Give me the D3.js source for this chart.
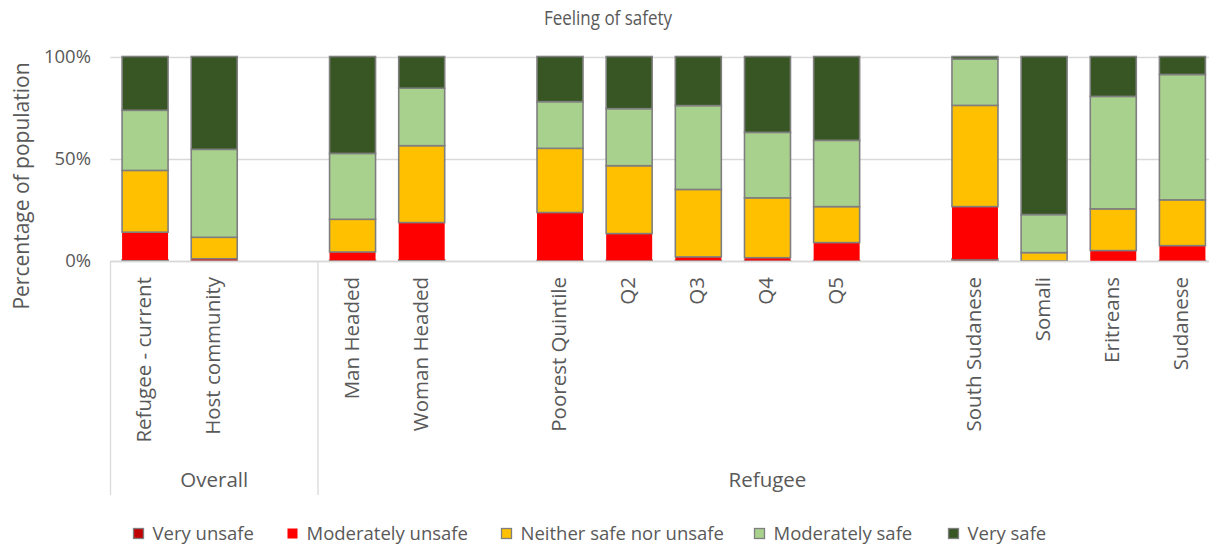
<!DOCTYPE html>
<html>
<head>
<meta charset="utf-8">
<script src="https://cdn.jsdelivr.net/npm/d3@7"></script>
<style>
  html, body { margin: 0; padding: 0; background: #fff; }
  svg { display: block; font-family: "Open Sans", sans-serif; }
</style>
</head>
<body>
<svg id="chart" width="1209" height="548"></svg>
<script>
// Category slots along the x axis ("" = empty spacer slot)
const categories = ["Refugee - current", "Host community", "", "Man Headed", "Woman Headed", "",
  "Poorest Quintile", "Q2", "Q3", "Q4", "Q5", "", "South Sudanese", "Somali", "Eritreans", "Sudanese"];

// Group labels spanning slot ranges
const groups = ["Overall", "Refugee"];
const groupStart = [0, 3];
const groupEnd = [2, 15];

const seriesNames = ["Very unsafe", "Moderately unsafe", "Neither safe nor unsafe", "Moderately safe", "Very safe"];

// Shares (%) per slot
const veryUnsafe      = [0.5, 0.3, null, 0.3, 0.5, null, 0.3, 0.3, 0.3, 0.2, 0.2, null, 1.0, 0.0, 0.0, 0.2];
const moderatelyUnsafe= [13.6, 0.8, null, 4.1, 18.3, null, 23.4, 13.1, 1.7, 1.4, 8.8, null, 25.6, 0.0, 5.1, 7.3];
const neither         = [30.2, 10.5, null, 16.0, 37.6, null, 31.4, 33.2, 33.0, 29.3, 17.6, null, 49.5, 4.1, 20.4, 22.4];
const moderatelySafe  = [29.4, 43.0, null, 32.2, 28.1, null, 22.8, 27.9, 41.0, 32.0, 32.4, null, 22.6, 18.6, 55.0, 61.3];
const verySafe        = [26.3, 45.4, null, 47.4, 15.5, null, 22.1, 25.5, 24.0, 37.1, 41.0, null, 1.3, 77.3, 19.5, 8.8];

const yTicks = [0, 50, 100];

const colors = ["#C00000", "#FF0000", "#FFC000", "#A9D18E", "#375623"];
const outlined = [true, false, true, true, true];

const svg = d3.select("#chart");
const W = 1209;
const plotLeft = 110.5, plotRight = 1217, plotTop = 56.5, plotBottom = 261;
const axisBottom = 495;
const textColor = "#595959";

const x = d3.scaleBand()
  .domain(categories.map((c, i) => i))
  .range([plotLeft, plotRight])
  .paddingInner(0.335)
  .paddingOuter(0.1675);

const y = d3.scaleLinear().domain([0, 100]).range([plotBottom, plotTop]);

// Title
svg.append("text")
  .attr("transform", "translate(608,25) scale(1,1.18)")
  .attr("text-anchor", "middle")
  .attr("font-size", 17).attr("fill", textColor)
  .text("Feeling of safety");

// Gridlines
svg.append("g").selectAll("line")
  .data(yTicks)
  .join("line")
  .attr("x1", plotLeft).attr("x2", W)
  .attr("y1", d => Math.round(y(d)) + 0.5).attr("y2", d => Math.round(y(d)) + 0.5)
  .attr("stroke", "#D9D9D9").attr("stroke-width", 1.3);

// Y axis tick labels
const yAxis = d3.axisLeft(y).tickValues(yTicks).tickFormat(d => d + "%").tickSize(0).tickPadding(0);
const yg = svg.append("g").attr("transform", `translate(91,0)`).call(yAxis);
yg.select(".domain").remove();
yg.selectAll("text").attr("font-size", 18.5).attr("fill", textColor).attr("font-family", "Open Sans, sans-serif");

// Y axis title
svg.append("text")
  .attr("transform", "translate(29,186) rotate(-90)")
  .attr("text-anchor", "middle")
  .attr("font-size", 21).attr("fill", textColor)
  .text("Percentage of population");

// Stacked bars
const seriesData = [veryUnsafe, moderatelyUnsafe, neither, moderatelySafe, verySafe];
const rows = categories.map((c, i) => {
  const r = { idx: i };
  seriesNames.forEach((s, k) => r[s] = seriesData[k][i] || 0);
  return r;
}).filter(r => categories[r.idx] !== "");

const stacked = d3.stack().keys(seriesNames)(rows);

const barsG = svg.append("g");
stacked.forEach((layer, k) => {
  barsG.append("g").selectAll("rect")
    .data(layer.filter(d => d[1] - d[0] > 0))
    .join("rect")
    .attr("x", d => x(d.data.idx))
    .attr("width", x.bandwidth())
    .attr("y", d => y(d[1]))
    .attr("height", d => y(d[0]) - y(d[1]))
    .attr("fill", colors[k])
    .attr("stroke", outlined[k] ? "#7F7F7F" : "none")
    .attr("stroke-width", 1.6);
});

// Category axis frame: baseline and group dividers
svg.append("line")
  .attr("x1", plotLeft).attr("x2", W)
  .attr("y1", plotBottom + 0.5).attr("y2", plotBottom + 0.5)
  .attr("stroke", "#D9D9D9").attr("stroke-width", 1.3);

const step = x.step();
const boundaries = [plotLeft].concat(groupEnd.slice(0, -1).map(e => plotLeft + (e + 1) * step));
svg.append("g").selectAll("line")
  .data(boundaries)
  .join("line")
  .attr("x1", d => d).attr("x2", d => d)
  .attr("y1", plotBottom).attr("y2", axisBottom)
  .attr("stroke", "#D9D9D9").attr("stroke-width", 1.3);

// Category labels (rotated)
svg.append("g").selectAll("text")
  .data(categories.map((c, i) => ({ c, i })).filter(d => d.c !== ""))
  .join("text")
  .attr("transform", d => `translate(${x(d.i) + x.bandwidth() / 2 + 6},277) rotate(-90)`)
  .attr("text-anchor", "end")
  .attr("font-size", 20.5).attr("fill", textColor)
  .text(d => d.c);

// Group labels
svg.append("g").selectAll("text")
  .data(groups.map((g, i) => ({ g, i })))
  .join("text")
  .attr("x", d => plotLeft + (groupStart[d.i] + groupEnd[d.i] + 1) / 2 * step)
  .attr("y", 486.5)
  .attr("text-anchor", "middle")
  .attr("font-size", 20.5).attr("fill", textColor)
  .text(d => d.g);

// Legend
const legendX = [133, 287, 501, 754, 948];
const lg = svg.append("g");
seriesNames.forEach((s, k) => {
  lg.append("rect")
    .attr("x", legendX[k] + 0.5).attr("y", 528.5)
    .attr("width", 10).attr("height", 10)
    .attr("fill", colors[k])
    .attr("stroke", outlined[k] ? "#7F7F7F" : "none")
    .attr("stroke-width", 1.3);
  lg.append("text")
    .attr("x", legendX[k] + 19.5).attr("y", 540)
    .attr("font-size", 18.5).attr("fill", textColor)
    .text(s);
});
</script>
</body>
</html>
